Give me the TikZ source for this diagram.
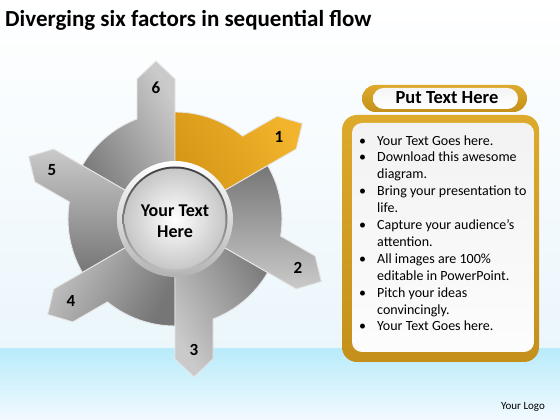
\documentclass[tikz,border=0pt]{standalone}
\usepackage{fontspec}
\setmainfont{Carlito}
\usetikzlibrary{calc}
\definecolor{goldL}{HTML}{F4D05C}
\definecolor{goldM}{HTML}{DDAA2C}
\definecolor{goldD}{HTML}{C4901A}
\definecolor{orgL}{HTML}{F2B42C}
\definecolor{orgD}{HTML}{D29414}
\definecolor{skyA}{HTML}{B9EBFB}
\definecolor{skyB}{HTML}{F2FAFE}
\definecolor{paleB}{HTML}{EBF6FB}
\definecolor{armL}{HTML}{CACACA}
\definecolor{secD}{HTML}{767676}
\tikzset{
  segment/.style={draw=white!80!gray, line width=0.9pt},
  graysh/.style={segment, top color=armL, bottom color=secD, shading angle=#1},
  orangesh/.style={segment, top color=orgL, bottom color=orgD, shading angle=#1},
  numlabel/.style={font=\fontsize{17}{19}\selectfont\bfseries, text=black},
  goldframe/.style={top color=goldM, middle color=goldL, bottom color=goldD},
}
\newcommand{\segshape}{(0,0) -- (140,0) -- (158,19) -- (140,38) -- (100,38) arc[start angle=20.8, end angle=60, radius=107pt] -- cycle}
\begin{document}
\begin{tikzpicture}[x=1pt,y=1pt]
\useasboundingbox (0,0) rectangle (560,420);
% background
\shade[top color=white, bottom color=paleB] (0,71) rectangle (560,420);
\shade[top color=skyA, bottom color=skyB] (0,0) rectangle (560,71);
% title
\node[anchor=base west, inner sep=0pt, font=\fontsize{23}{27}\selectfont\bfseries] (title) at (5,393) {Diverging six factors in sequential flow};
% wheel
\coordinate (C) at (175,201);
\foreach \a in {90,150,210,270,330}{
  \pgfmathsetmacro{\sa}{\a-150}
  \begin{scope}[shift={(C)}, rotate=\a]
    \path[graysh=\sa] \segshape;
  \end{scope}
}
\begin{scope}[shift={(C)}, rotate=30]
  \path[orangesh=-60] \segshape;
\end{scope}
% number labels
\foreach \a/\n in {30/1,330/2,270/3,210/4,150/5,90/6}{
  \node[numlabel] (n\n) at ($(C)+(\a:131)+(\a+90:19)$) {\n};
}
% centre
\shade[top color=white, bottom color=black!30] (C) circle (58);
\shade[top color=black!75, bottom color=black!25] (C) circle (52.5);
\shade[inner color=white, outer color=black!22] (C) circle (50.5);
\node[align=center, font=\fontsize{18}{21}\selectfont\bfseries] (ctext) at (175,199) {Your Text\\Here};
% title pill
\shade[goldframe, rounded corners=13.5pt] (362,308) rectangle (527,335);
\shade[top color=white!92!gray, bottom color=white, rounded corners=10.5pt] (373,311) rectangle (518,332);
\node[font=\fontsize{18.5}{21}\selectfont\bfseries] (ptitle) at (447,322) {Put Text Here};
% text box
\shade[goldframe, rounded corners=15pt] (342,58) rectangle (539,305);
\shade[top color=white!90!gray, bottom color=white!98!gray, rounded corners=10pt] (352,68) rectangle (534,297);
\node[anchor=north west, inner sep=0pt, font=\fontsize{14}{16.9}\selectfont] (bullets) at (356,287) {%
\begin{tabular}{@{}p{21pt}@{}l@{}}
\hspace{3pt}\textbullet & Your Text Goes here.\\
\hspace{3pt}\textbullet & Download this awesome\\
 & diagram.\\
\hspace{3pt}\textbullet & Bring your presentation to\\
 & life.\\
\hspace{3pt}\textbullet & Capture your audience’s\\
 & attention.\\
\hspace{3pt}\textbullet & All images are 100\%\\
 & editable in PowerPoint.\\
\hspace{3pt}\textbullet & Pitch your ideas\\
 & convincingly.\\
\hspace{3pt}\textbullet & Your Text Goes here.
\end{tabular}};
\node[font=\fontsize{11}{13}\selectfont] (logo) at (523,13) {Your Logo};
\end{tikzpicture}
\end{document}
